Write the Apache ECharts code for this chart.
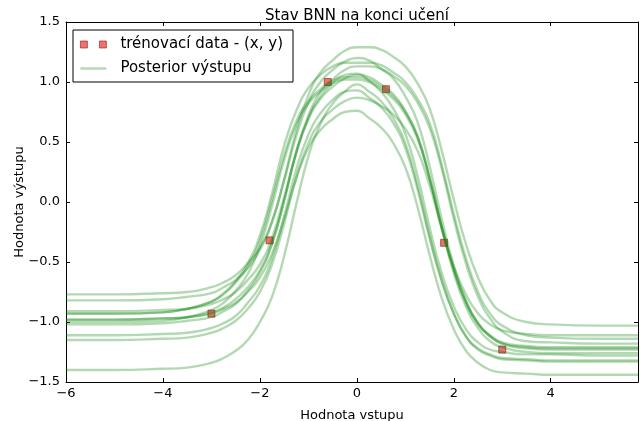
<!DOCTYPE html>
<html><head><meta charset="utf-8">
<script src="https://cdn.jsdelivr.net/npm/echarts@6/dist/echarts.min.js"></script>
<style>html,body{margin:0;padding:0;background:#fff}#c{width:643px;height:421px}</style>
</head><body><div id="c"></div>
<script>
const xs = [-6,-5,-4,-3.5,-3,-2.75,-2.5,-2.25,-2,-1.75,-1.5,-1.25,-1,-0.75,-0.5,-0.25,0,0.25,0.5,0.75,1,1.25,1.5,1.75,2,2.25,2.5,2.75,3,3.5,4,5,5.8];
const trainX = [-3,-1.8,-0.6,0.6,1.8,3];
const trainY = [-0.93,-0.32,1.0,0.94,-0.34,-1.23];
const post1 = [-0.77,-0.77,-0.76,-0.75,-0.71,-0.67,-0.61,-0.51,-0.38,-0.16,0.18,0.55,0.83,1.00,1.10,1.17,1.20,1.18,1.11,1.03,0.88,0.67,0.30,-0.14,-0.53,-0.82,-1.01,-1.12,-1.18,-1.22,-1.23,-1.23,-1.23];
const post2 = [-0.82,-0.82,-0.81,-0.79,-0.76,-0.71,-0.65,-0.55,-0.40,-0.17,0.19,0.59,0.89,1.08,1.18,1.26,1.29,1.29,1.27,1.21,1.13,0.99,0.78,0.43,0.02,-0.35,-0.63,-0.82,-0.92,-1.00,-1.02,-1.03,-1.03];
const post3 = [-0.91,-0.91,-0.90,-0.89,-0.85,-0.81,-0.75,-0.65,-0.52,-0.30,0.04,0.41,0.69,0.86,0.96,1.03,1.06,1.04,0.98,0.90,0.76,0.55,0.20,-0.22,-0.59,-0.87,-1.05,-1.16,-1.21,-1.25,-1.26,-1.26,-1.26];
const post4 = [-0.93,-0.93,-0.92,-0.89,-0.83,-0.77,-0.67,-0.54,-0.32,0.02,0.39,0.67,0.84,0.94,1.01,1.04,1.04,1.02,0.96,0.88,0.75,0.55,0.21,-0.20,-0.56,-0.83,-1.01,-1.11,-1.17,-1.20,-1.21,-1.21,-1.21];
const post5 = [-0.98,-0.98,-0.97,-0.96,-0.92,-0.88,-0.81,-0.71,-0.57,-0.34,0.01,0.41,0.70,0.88,0.99,1.06,1.07,1.01,0.92,0.78,0.57,0.22,-0.21,-0.59,-0.87,-1.06,-1.17,-1.23,-1.25,-1.27,-1.27,-1.28,-1.28];
const post6 = [-1.00,-1.00,-0.99,-0.96,-0.90,-0.84,-0.74,-0.60,-0.37,-0.03,0.35,0.64,0.82,0.92,0.99,1.02,1.02,1.00,0.94,0.86,0.73,0.53,0.19,-0.21,-0.57,-0.84,-1.02,-1.12,-1.18,-1.21,-1.22,-1.22,-1.22];
const post7 = [-1.02,-1.02,-1.01,-0.99,-0.96,-0.91,-0.85,-0.74,-0.59,-0.35,0.01,0.42,0.72,0.92,1.02,1.10,1.13,1.13,1.11,1.05,0.97,0.83,0.62,0.28,-0.14,-0.51,-0.79,-0.97,-1.08,-1.16,-1.17,-1.18,-1.18];
const post8 = [-1.11,-1.11,-1.10,-1.09,-1.05,-1.01,-0.95,-0.84,-0.70,-0.47,-0.12,0.27,0.56,0.74,0.85,0.92,0.93,0.87,0.79,0.66,0.45,0.11,-0.30,-0.66,-0.93,-1.12,-1.22,-1.27,-1.30,-1.31,-1.32,-1.32,-1.32];
const post9 = [-1.15,-1.15,-1.14,-1.13,-1.09,-1.05,-0.99,-0.89,-0.75,-0.52,-0.18,0.20,0.49,0.67,0.77,0.84,0.87,0.85,0.80,0.73,0.61,0.43,0.14,-0.22,-0.54,-0.77,-0.93,-1.02,-1.07,-1.10,-1.11,-1.11,-1.11];
const post10 = [-1.40,-1.40,-1.39,-1.38,-1.34,-1.30,-1.24,-1.15,-1.00,-0.79,-0.45,-0.02,0.38,0.65,0.82,0.92,0.98,0.92,0.84,0.70,0.49,0.14,-0.28,-0.65,-0.93,-1.12,-1.23,-1.28,-1.31,-1.32,-1.33,-1.33,-1.33];
const post11 = [-0.93,-0.93,-0.92,-0.89,-0.83,-0.76,-0.66,-0.51,-0.28,0.07,0.47,0.76,0.95,1.06,1.13,1.16,1.16,1.16,1.14,1.08,1.00,0.86,0.66,0.31,-0.10,-0.47,-0.75,-0.93,-1.03,-1.11,-1.13,-1.14,-1.14];
const post12 = [-0.98,-0.98,-0.97,-0.96,-0.93,-0.89,-0.84,-0.75,-0.63,-0.43,-0.14,0.20,0.45,0.60,0.69,0.75,0.76,0.70,0.62,0.49,0.29,-0.04,-0.44,-0.80,-1.06,-1.24,-1.34,-1.40,-1.42,-1.43,-1.44,-1.44,-1.44];
const posteriors = [post1,post2,post3,post4,post5,post6,post7,post8,post9,post10,post11,post12];

const FONT = 'DejaVu Sans';
const minus = v => (v < 0 ? '\u2212' : '') + Math.abs(v);
const chart = echarts.init(document.getElementById('c'), null, {renderer: 'canvas'});
const lineColor = 'rgba(0,128,0,0.3)';
const series = [{
  name: 'trénovací data - (x, y)',
  type: 'scatter',
  symbol: 'rect',
  symbolSize: 7,
  z: 1,
  itemStyle: {color: 'rgba(240,30,30,0.8)', borderColor: '#7a2a2a', borderWidth: 0.8},
  data: trainX.map((x, i) => [x, trainY[i]])
}];
posteriors.forEach(p => series.push({
  name: 'Posterior výstupu',
  type: 'line',
  showSymbol: false,
  symbol: 'none',
  smooth: 0.5,
  z: 2,
  lineStyle: {color: lineColor, width: 2.4},
  itemStyle: {color: lineColor},
  data: xs.map((x, i) => [x, p[i]])
}));
const axisCommon = {
  axisLine: {show: true, onZero: false, lineStyle: {color: '#000', width: 1}},
  axisTick: {show: true, inside: true, length: 4, lineStyle: {color: '#000'}},
  splitLine: {show: false}
};
chart.setOption({
  animation: false,
  backgroundColor: '#fff',
  title: {text: 'Stav BNN na konci učení', left: 352, top: 4, textAlign: 'center',
    textStyle: {fontFamily: FONT, fontSize: 15, fontWeight: 'normal', color: '#000'}},
  grid: {left: 66, right: 5, top: 22, bottom: 39, containLabel: false, outerBoundsMode: 'none'},
  legend: {
    left: 73, top: 30, orient: 'vertical',
    backgroundColor: '#fff', borderColor: '#000', borderWidth: 1, borderRadius: 0,
    padding: [7, 10, 6, 7], itemGap: 9, itemWidth: 26, itemHeight: 8,
    textStyle: {fontFamily: FONT, fontSize: 15, color: '#000', padding: [0, 0, 0, 9]},
    data: [
      {name: 'trénovací data - (x, y)', icon: 'path://M0,0h7v7h-7z M19,0h7v7h-7z', itemStyle: {color: 'rgba(240,30,30,0.8)', borderColor: '#7a2a2a', borderWidth: 0.8}},
      {name: 'Posterior výstupu', icon: 'path://M0,0h26v2.4h-26z', itemStyle: {color: 'rgba(0,128,0,0.3)', borderWidth: 0}}
    ]
  },
  xAxis: [
    Object.assign({type: 'value', min: -6, max: 5.8, interval: 2, position: 'bottom',
      name: 'Hodnota vstupu', nameLocation: 'middle', nameGap: 27, nameMoveOverlap: false,
      nameTextStyle: {fontFamily: FONT, fontSize: 13, color: '#000'},
      axisLabel: {fontFamily: FONT, fontSize: 13, color: '#000', margin: 5, formatter: minus, showMaxLabel: false}}, axisCommon),
    Object.assign({type: 'value', min: -6, max: 5.8, interval: 2, position: 'top', axisLabel: {show: false}}, axisCommon)
  ],
  yAxis: [
    Object.assign({type: 'value', min: -1.5, max: 1.5, interval: 0.5, position: 'left',
      name: 'Hodnota výstupu', nameLocation: 'middle', nameGap: 40, nameMoveOverlap: false,
      nameTextStyle: {fontFamily: FONT, fontSize: 13, color: '#000'},
      axisLabel: {fontFamily: FONT, fontSize: 13, color: '#000', margin: 6,
        formatter: v => (v < 0 ? '\u2212' : '') + Math.abs(v).toFixed(1)}}, axisCommon),
    Object.assign({type: 'value', min: -1.5, max: 1.5, interval: 0.5, position: 'right', axisLabel: {show: false}}, axisCommon)
  ],
  series: series
});
</script>
</body></html>
